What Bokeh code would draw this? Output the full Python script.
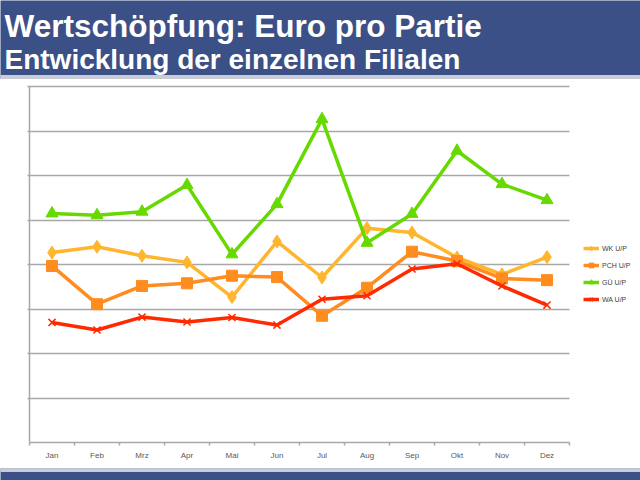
from bokeh.plotting import figure
from bokeh.models import Range1d, FixedTicker, Legend, LegendItem, LinearAxis, Grid
from bokeh.layouts import column
from bokeh.core.properties import value
from bokeh.embed import file_html
from bokeh.resources import INLINE

# ---- data ----
months = ["Jan", "Feb", "Mrz", "Apr", "Mai", "Jun", "Jul", "Aug", "Sep", "Okt", "Nov", "Dez"]
wk = [4.27, 4.40, 4.20, 4.05, 3.27, 4.52, 3.71, 4.82, 4.72, 4.16, 3.78, 4.17]
pch = [3.97, 3.11, 3.52, 3.58, 3.75, 3.72, 2.85, 3.48, 4.29, 4.08, 3.69, 3.65]
gue = [5.15, 5.11, 5.19, 5.79, 4.23, 5.36, 7.27, 4.49, 5.14, 6.56, 5.81, 5.45]
wa = [2.70, 2.53, 2.82, 2.71, 2.81, 2.64, 3.22, 3.30, 3.90, 4.02, 3.52, 3.09]
series_names = ["WK U/P", "PCH U/P", "GÜ U/P", "WA U/P"]
y_ticks = [0, 1, 2, 3, 4, 5, 6, 7, 8]
title1 = "Wertschöpfung: Euro pro Partie"
title2 = "Entwicklung der einzelnen Filialen"

BLUE = "#3A5086"
BAND = "#C9CCD4"
GRID = "#A8A8A8"
FONT = "Liberation Sans"
W = 640

# ---- header ----
HH = 79
hdr = figure(width=W, height=HH, x_range=Range1d(0, W), y_range=Range1d(0, HH),
             toolbar_location=None, output_backend="svg", min_border=0,
             min_border_left=0, min_border_right=0, min_border_top=0, min_border_bottom=0)
hdr.axis.visible = False
hdr.grid.visible = False
hdr.outline_line_color = None
hdr.background_fill_color = BLUE
hdr.border_fill_color = BLUE
hdr.quad(left=[0], right=[W], bottom=[0], top=[4], color=BAND)
hdr.text(x=[4], y=[HH - 25], text=[title1], text_font=value(FONT), text_font_style="bold",
         text_font_size="31.5px", text_color="white", text_baseline="alphabetic")
hdr.text(x=[4], y=[HH - 58.5], text=[title2], text_font=value(FONT), text_font_style="bold",
         text_font_size="28px", text_color="white", text_baseline="alphabetic")

# ---- chart ----
# frame spans the full width; data x 0..12 maps to pixels 29..569
LEFT_PX, CAT_PX = 29, 45
x0 = -LEFT_PX / CAT_PX
x1 = (W - LEFT_PX) / CAT_PX
p = figure(width=W, height=389, x_range=Range1d(x0, x1), y_range=Range1d(0, 8.05),
           toolbar_location=None, output_backend="svg", x_axis_type=None, y_axis_type=None,
           min_border_left=0, min_border_right=0, min_border_top=5, min_border_bottom=26)
p.outline_line_color = None
p.background_fill_color = "white"
p.border_fill_color = "white"
p.grid.visible = False

xs = [i + 0.5 for i in range(len(months))]
xaxis = LinearAxis(bounds=(0, len(months)),
                   ticker=FixedTicker(ticks=xs, minor_ticks=list(range(len(months) + 1))))
xaxis.major_label_overrides = {x: m for x, m in zip(xs, months)}
xaxis.major_tick_out = 0
xaxis.major_tick_in = 0
xaxis.minor_tick_out = 3
xaxis.minor_tick_in = 0
xaxis.minor_tick_line_color = GRID
xaxis.minor_tick_line_width = 1.5
xaxis.axis_line_color = GRID
xaxis.axis_line_width = 1.5
xaxis.major_label_text_font = FONT
xaxis.major_label_text_font_size = "8px"
xaxis.major_label_text_color = "#595959"
xaxis.major_label_standoff = 5
p.add_layout(xaxis, "below")

# horizontal gridlines (extend 2px left of the y axis line, like tick marks)
ygrid = Grid(dimension=1, ticker=FixedTicker(ticks=y_ticks),
             bounds=(min(y_ticks), max(y_ticks)),
             cross_bounds=(-2 / CAT_PX, len(months)),
             grid_line_color=GRID, grid_line_width=1.5)
p.add_layout(ygrid)
# vertical y-axis line
yline = Grid(dimension=0, ticker=FixedTicker(ticks=[0]), bounds=(0, 0),
             cross_bounds=(min(y_ticks), max(y_ticks)),
             grid_line_color=GRID, grid_line_width=1.5)
p.add_layout(yline)

colors = ["#FFB62E", "#FF8C1F", "#66D900", "#FF2A00"]
markers = ["diamond", "square", "triangle", "x"]
sizes = [13, 11, 12, 10]
items = []
for name, ys, c, mk, sz in zip(series_names, [wk, pch, gue, wa], colors, markers, sizes):
    lr = p.line(xs, ys, line_color=c, line_width=3.5)
    if mk == "x":
        sr = p.scatter(xs, ys, marker=mk, size=sz, line_color=c, line_width=1.5)
    else:
        sr = p.scatter(xs, ys, marker=mk, size=sz, fill_color=c, line_color=c)
    items.append(LegendItem(label=name, renderers=[lr, sr]))

legend = Legend(items=items, location=(583, 137), orientation="vertical",
                glyph_width=16, glyph_height=12, label_height=12, spacing=5,
                padding=0, margin=0, label_standoff=3,
                label_text_font=FONT, label_text_font_size="7px", label_text_color="#404040",
                background_fill_alpha=0, border_line_color=None)
p.add_layout(legend)

# ---- footer ----
FH = 12
ftr = figure(width=W, height=FH, x_range=Range1d(0, W), y_range=Range1d(0, FH),
             toolbar_location=None, output_backend="svg", min_border=0,
             min_border_left=0, min_border_right=0, min_border_top=0, min_border_bottom=0)
ftr.axis.visible = False
ftr.grid.visible = False
ftr.outline_line_color = None
ftr.background_fill_color = BLUE
ftr.border_fill_color = BLUE
ftr.quad(left=[0], right=[W], bottom=[FH - 3], top=[FH], color=BAND)

layout = column(hdr, p, ftr, spacing=0)
open("out.html", "w").write(file_html(layout, INLINE))
